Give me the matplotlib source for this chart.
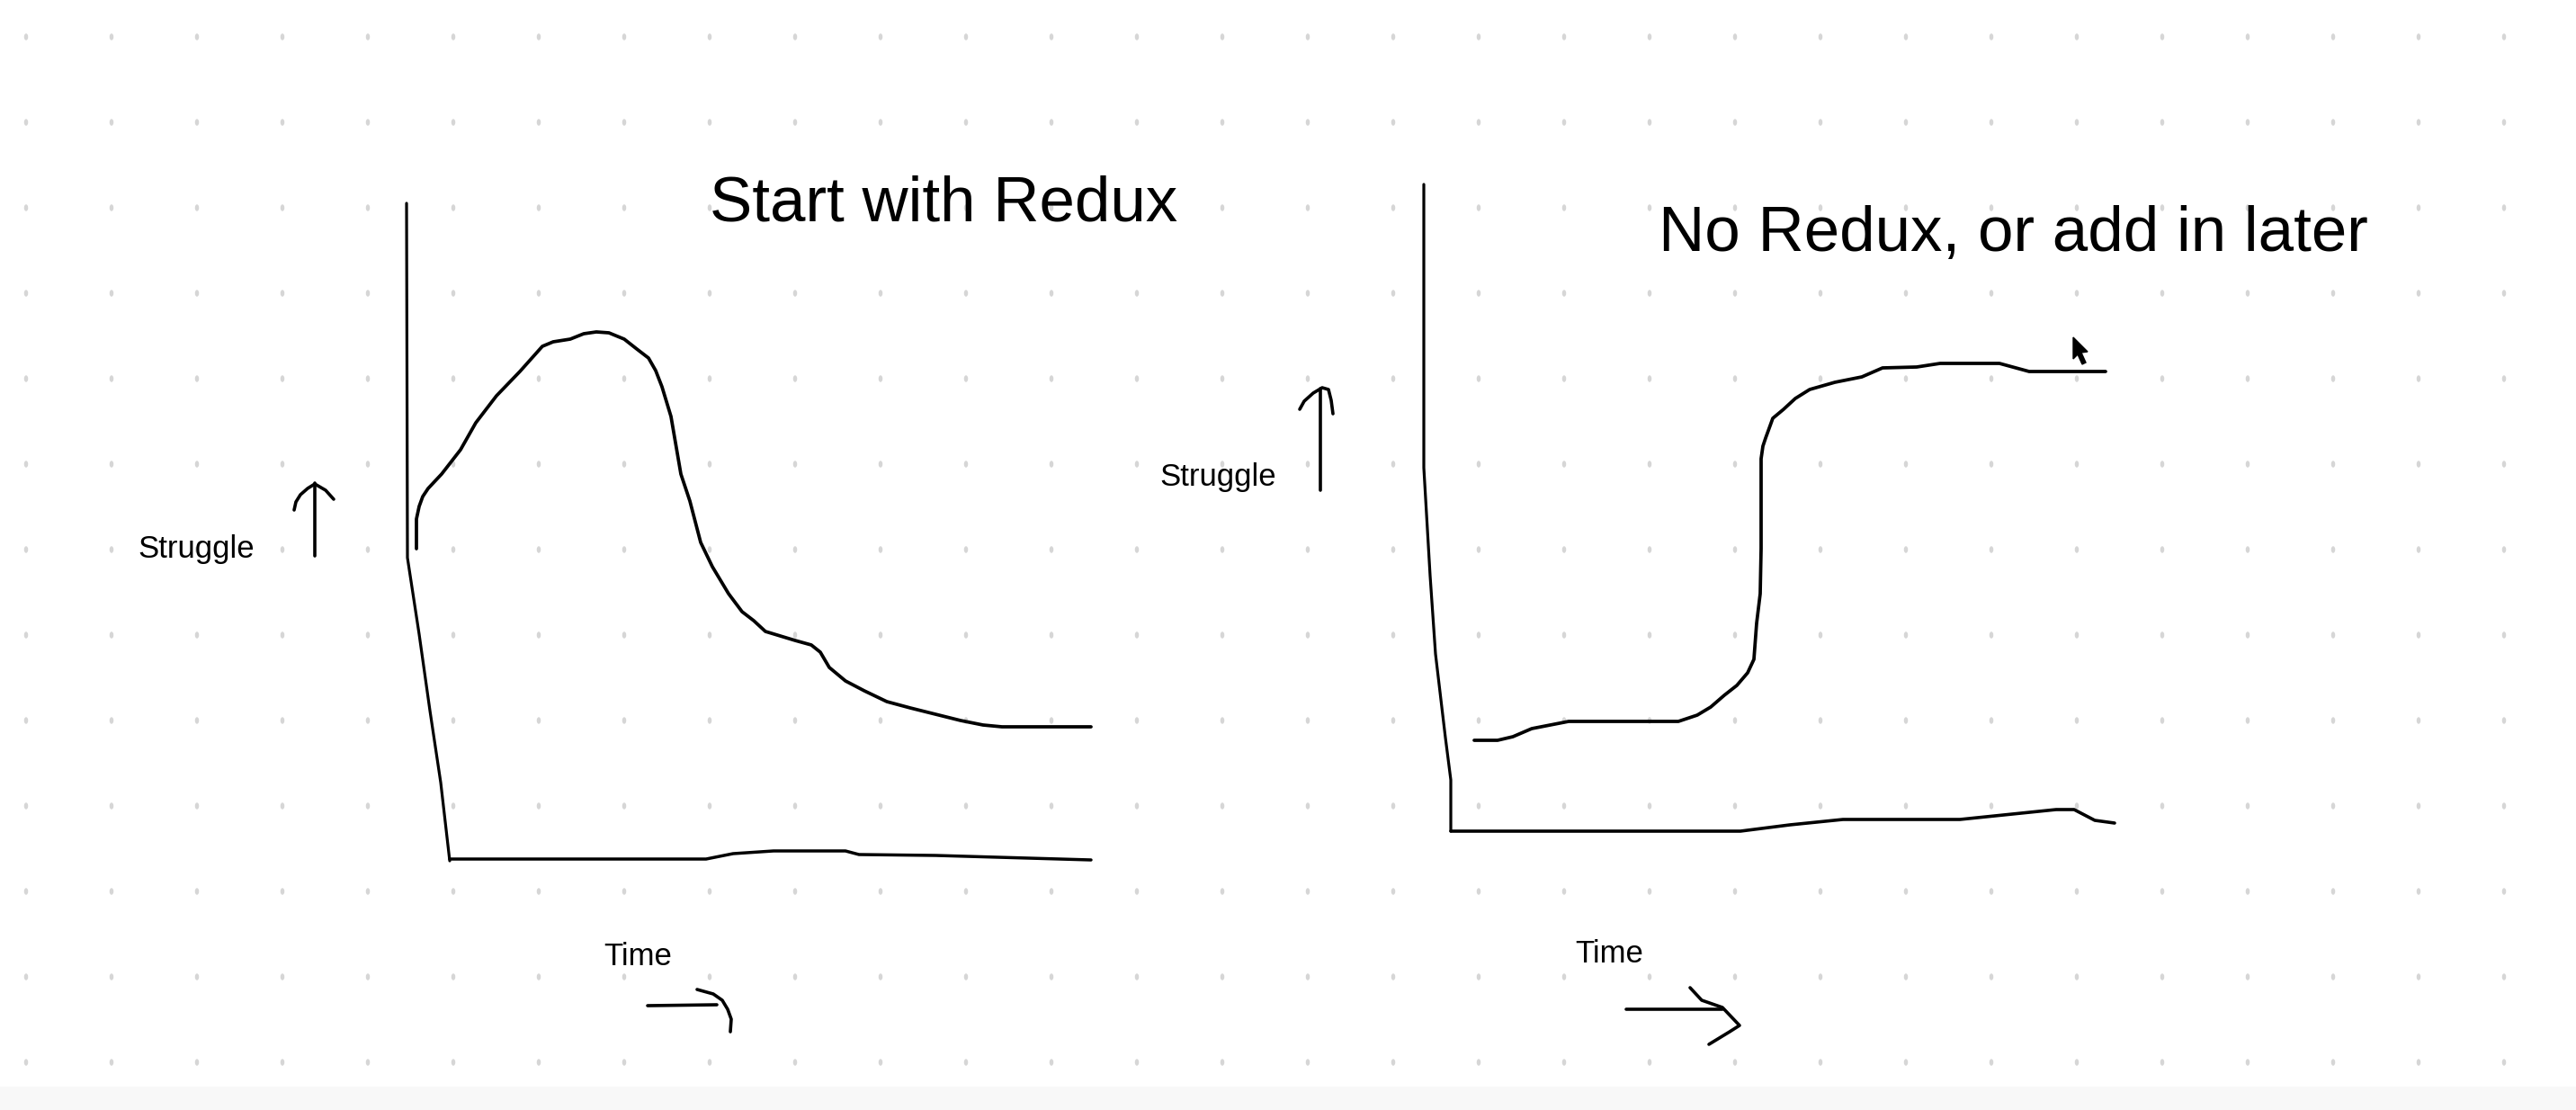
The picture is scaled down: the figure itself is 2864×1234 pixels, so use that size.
import matplotlib
matplotlib.use("Agg")
import matplotlib.pyplot as plt
import numpy as np
from matplotlib.collections import EllipseCollection
from matplotlib.patches import Polygon, Rectangle

plt.rcParams['font.family'] = ['Liberation Sans', 'DejaVu Sans']

# sketch is on a whiteboard canvas, coordinates in canvas pixels (y down)
W, H = 2864, 1234

# left panel: "Start with Redux"
left_axis_x = [452, 453, 466, 478, 490, 500]
left_axis_y = [226, 620, 705, 790, 870, 957]
left_base_x = [500, 785, 815, 860, 940, 955, 1040, 1213]
left_base_y = [955, 955, 949, 946, 946, 950, 951, 956]
left_curve_x = [463, 463, 466, 470, 476, 491, 512, 529, 552, 578, 603, 615, 634, 649,
                663, 677, 694, 708, 721, 729, 736, 746, 757, 767, 779, 792, 810, 825,
                838, 851, 884, 902, 912, 922, 940, 961, 986, 1012, 1032, 1068, 1093,
                1114, 1213]
left_curve_y = [610, 577, 563, 552, 543, 527, 500, 470, 440, 413, 385, 380, 377, 371,
                369, 370, 377, 388, 398, 412, 430, 463, 527, 557, 603, 630, 660, 680,
                690, 702, 712, 717, 725, 742, 757, 768, 780, 787, 792, 801, 806,
                808, 808]

# right panel: "No Redux, or add in later"
right_axis_x = [1583, 1583, 1590, 1596, 1607, 1613, 1613]
right_axis_y = [205, 520, 640, 727, 820, 867, 924]
right_base_x = [1613, 1935, 1990, 2049, 2179, 2286, 2306, 2329, 2351]
right_base_y = [924, 924, 917, 911, 911, 900, 900, 912, 915]
right_curve_x = [1639, 1665, 1682, 1703, 1744, 1866, 1887, 1902, 1917, 1931, 1943, 1950,
                 1953, 1957, 1958, 1958, 1960, 1963, 1971, 1983, 1996, 2012, 2040, 2070,
                 2093, 2131, 2157, 2223, 2256, 2341]
right_curve_y = [823, 823, 819, 810, 802, 802, 795, 786, 773, 762, 748, 733,
                 693, 660, 610, 510, 496, 487, 465, 455, 443, 433, 425, 419,
                 409, 408, 404, 404, 413, 413]

# hand drawn arrows next to the labels
up_arrows = [
    ([350, 350], [618, 537]),
    ([327, 329, 334, 342, 350, 362, 371], [567, 558, 550, 543, 538, 545, 555]),
    ([1468, 1468], [545, 432]),
    ([1445, 1450, 1460, 1470, 1477, 1480, 1482], [455, 446, 437, 431, 433, 445, 460]),
]
right_arrows = [
    ([720, 797], [1118, 1117]),
    ([775, 793, 803, 809, 813, 812], [1100, 1105, 1112, 1122, 1133, 1147]),
    ([1808, 1915], [1122, 1122]),
    ([1879, 1892, 1915, 1934, 1923, 1900], [1098, 1112, 1120, 1140, 1147, 1161]),
]

labels = [
    (789, 246, "Start with Redux", 51),
    (1844, 279, "No Redux, or add in later", 51),
    (153, 620, "Struggle", 25),
    (1289, 540, "Struggle", 25),
    (671, 1073, "Time", 25),
    (1751, 1070, "Time", 25),
]

fig = plt.figure(figsize=(W / 100, H / 100), dpi=100)
ax = fig.add_axes([0, 0, 1, 1])
ax.set_xlim(0, W)
ax.set_ylim(H, 0)
ax.axis('off')

# dotted background
ax.add_patch(Rectangle((0, 1208), W, H - 1208, color='#f8f8f8', lw=0, zorder=0))
gx, gy = np.meshgrid(np.arange(29, W, 95), np.arange(41, 1208, 95))
offs = np.column_stack([gx.ravel(), gy.ravel()])
dots = EllipseCollection(np.full(len(offs), 4.5), np.full(len(offs), 7.5), np.zeros(len(offs)),
                         units='xy', offsets=offs, offset_transform=ax.transData,
                         facecolors='#d6d6d6', edgecolors='none', zorder=1)
ax.add_collection(dots)

style = dict(color='black', solid_capstyle='round', solid_joinstyle='round', zorder=3)
ax.plot(left_axis_x, left_axis_y, lw=2.3, **style)
ax.plot(left_base_x, left_base_y, lw=2.5, **style)
ax.plot(left_curve_x, left_curve_y, lw=2.7, **style)
ax.plot(right_axis_x, right_axis_y, lw=2.3, **style)
ax.plot(right_base_x, right_base_y, lw=2.6, **style)
ax.plot(right_curve_x, right_curve_y, lw=2.7, **style)

for xs, ys in up_arrows + right_arrows:
    ax.plot(xs, ys, lw=2.6, **style)

for x, y, s, fs in labels:
    ax.text(x, y, s, fontsize=fs, ha='left', va='baseline', color='black', zorder=4)

# mouse pointer left on the board
pointer = Polygon([[2305, 375], [2305, 399], [2310, 394], [2315, 405], [2319, 403],
                   [2314, 392], [2321, 391]], closed=True, color='black', zorder=4)
ax.add_patch(pointer)

fig.savefig("out.png", dpi=100, facecolor='white')
